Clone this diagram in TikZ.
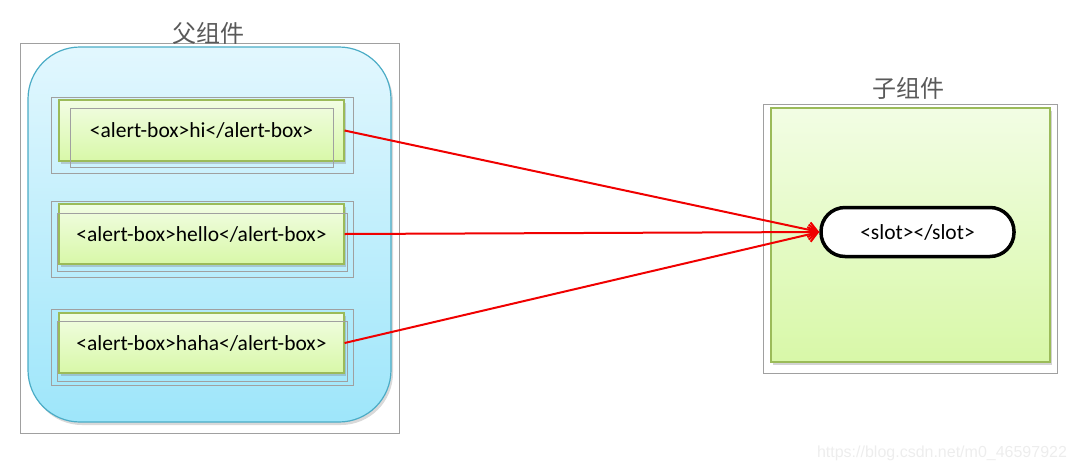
\documentclass[tikz,border=0pt]{standalone}
\usepackage{fontspec}
\setmainfont{Carlito}
\newfontfamily\cjk{Noto Sans CJK SC}
\newfontfamily\marksans{Liberation Sans}
\usetikzlibrary{arrows.meta,shadows}

\definecolor{framegray}{HTML}{A0A0A0}
\definecolor{titlegray}{HTML}{595959}
\definecolor{blueedge}{HTML}{4BACC6}
\definecolor{bluetop}{HTML}{E2F7FE}
\definecolor{bluebottom}{HTML}{9EE6FA}
\definecolor{greenedge}{HTML}{9BBB59}
\definecolor{greentop}{HTML}{F2FDE4}
\definecolor{greenbottom}{HTML}{D8F8A8}
\definecolor{linkred}{HTML}{F00000}

\begin{document}
\begin{tikzpicture}[x=1pt,y=-1pt,
  frame/.style={draw=framegray,line width=0.8pt,inner sep=0pt},
  greenbox/.style={draw=greenedge,line width=1.1pt,inner sep=0pt,
    top color=greentop,bottom color=greenbottom,
    drop shadow={shadow xshift=1.5pt,shadow yshift=-2.5pt,opacity=0.35}},
  tag/.style={font=\fontsize{21.5}{25}\selectfont},
  title/.style={text=titlegray,font=\cjk\fontsize{24}{28}\selectfont},
  link/.style={draw=linkred,line width=2pt,-{Straight Barb[length=9pt,width=15pt]}}]

  \useasboundingbox (0,0) rectangle (1075,472);

  % Parent
  \node[frame,minimum width=379pt,minimum height=390pt] (parentFrame) at (209.5,238) {};
  \node[draw=blueedge,line width=1.2pt,rounded corners=52pt,top color=bluetop,bottom color=bluebottom,
    minimum width=363pt,minimum height=375pt,
    drop shadow={shadow xshift=2pt,shadow yshift=-3pt,opacity=0.3}] (parent) at (209.5,234.5) {};
  \node[title] (parentTitle) at (208,33) {父组件};

  % hi
  \node[frame,minimum width=302pt,minimum height=76pt] (hiOuter) at (202,135) {};
  \node[greenbox,tag,minimum width=285pt,minimum height=61pt] (hi) at (201.5,130.5) {<alert-box>hi</alert-box>};
  \node[frame,minimum width=263pt,minimum height=59pt] (hiInner) at (201.5,137.5) {};

  % hello
  \node[frame,minimum width=302pt,minimum height=76pt] (helloOuter) at (202,239) {};
  \node[greenbox,tag,minimum width=285pt,minimum height=60pt] (hello) at (201.5,234) {<alert-box>hello</alert-box>};
  \node[frame,minimum width=290pt,minimum height=58pt] (helloInner) at (202,242) {};

  % haha
  \node[frame,minimum width=302pt,minimum height=76pt] (hahaOuter) at (202,347) {};
  \node[greenbox,tag,minimum width=285pt,minimum height=60pt] (haha) at (201.5,343) {<alert-box>haha</alert-box>};
  \node[frame,minimum width=290pt,minimum height=60pt] (hahaInner) at (202,351) {};

  % Child
  \node[frame,minimum width=294pt,minimum height=269pt] (childFrame) at (910,238.5) {};
  \node[greenbox,minimum width=279pt,minimum height=254pt] (child) at (910.5,235) {};
  \node[title] (childTitle) at (908,88) {子组件};
  \node[draw=black,line width=3.5pt,fill=white,rounded corners=24pt,tag,
    minimum width=193pt,minimum height=49pt] (slot) at (917.5,232) {<slot></slot>};

  % Links
  \draw[link] (hi.east) -- (slot.west);
  \draw[link] (hello.east) -- (slot.west);
  \draw[link] (haha.east) -- (slot.west);

  % Watermark
  \node[text=black!7,font=\marksans\fontsize{16}{19}\selectfont] (mark) at (942,453) {https://blog.csdn.net/m0\_46597922};

\end{tikzpicture}
\end{document}
